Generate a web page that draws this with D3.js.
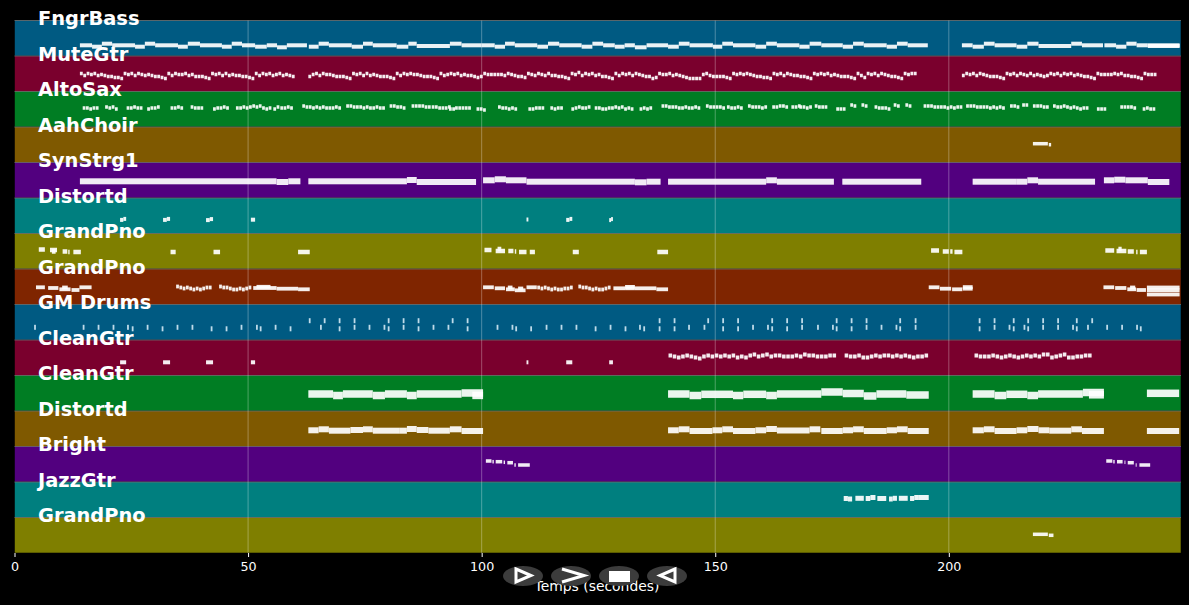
<!DOCTYPE HTML>
<html>
<head>
<meta charset="utf-8">
<script src="https://cdn.jsdelivr.net/npm/d3@7"></script>
<style>
  html, body { margin: 0; padding: 0; background: #000; overflow: hidden; }
  text { font-family: "DejaVu Sans", sans-serif; fill: #fff; }
  .tick line, .domain { stroke: #fff; }
</style>
</head>
<body>
<script>
// *** DATA ***

var trackNames = ['FngrBass','MuteGtr','AltoSax','AahChoir','SynStrg1','Distortd','GrandPno','GrandPno',
  'GM Drums','CleanGtr','CleanGtr','Distortd','Bright','JazzGtr','GrandPno'];
var trackColors = ['#005a82','#7a002d','#007d23','#7f5900','#52007f','#007f7f','#7f7f00','#7f2500',
  '#005a82','#7a002d','#007d23','#7f5900','#52007f','#007f7f','#7f7f00'];
var noteHeights = [4,3.5,3.5,3.5,6,4,4.5,3.8,5,4,7.5,6,3.5,5,3.5];
var xTicks = [0,50,100,150,200];
var xMax = 249.7;

// runs: [start (s), end (s), level inside the track]
var fngrBassRuns = [[14,16.6,10.7],[16.6,18.7,9.3],[18.7,20.9,12.3],[20.9,25.8,10.7],[25.8,27.9,9.3],[27.9,30.1,12.3],
  [30.1,35,10.7],[35,37.1,9.3],[37.1,39.7,12.3],[39.7,44.4,10.7],[44.4,46.5,9.3],[46.5,48.7,12.3],[48.7,51.5,10.7],
  [51.5,54,9.3],[54,56.2,10.7],[56.2,58.3,8.7],[58.3,62.6,10.7],[63,65.1,9.3],[65.1,67.3,12.3],[67.3,72.2,10.7],
  [72.2,74.6,9.3],[74.6,76.7,12.3],[76.7,81.8,10.7],[81.8,84.3,9.3],[84.3,86.1,12.3],[86.1,93.2,10],[93.2,95.7,12.3],
  [95.7,100,10.7],[100,102.8,10.7],[102.8,105,9.3],[105,107.1,12.3],[107.1,111.9,10.7],[111.9,114.2,9.3],[114.2,116.6,12.3],
  [116.6,121.4,10.7],[121.4,123.7,9.3],[123.7,126,12.3],[126,128.5,10.7],[128.5,130.6,9.3],[130.6,132.8,10.7],
  [132.8,135.3,8.7],[135.3,139.9,10.7],[139.9,142.2,9.3],[142.2,144.5,12.3],[144.5,149.5,10.7],[149.5,151.5,9.3],
  [151.5,153.8,12.3],[153.8,158.6,10.7],[158.6,160.9,9.3],[160.9,163.2,12.3],[163.2,168,10.7],[168,170.2,9.3],
  [170.2,172.7,12.3],[172.7,177.3,10.7],[177.3,179.5,9.3],[179.5,181.8,12.3],[181.8,186.7,10.7],[186.7,188.9,9.3],
  [188.9,191.2,12.3],[191.2,195.5,10.7],[202.8,205.1,10.7],[205.1,207.5,9.3],[207.5,209.8,12.3],[209.8,214.5,10.7],
  [214.5,216.8,9.3],[216.8,219.2,12.3],[219.2,226.2,10],[226.2,228.5,12.3],[228.5,233,10.7],[233.3,235.8,10.7],
  [235.8,238,9.3],[238,240.2,12.3],[240.2,242.6,10.7],[242.6,249.4,10.7],[242.6,249.4,10]];

var aahChoirRuns = [[218,221.2,18.8],[221.4,221.9,17.8]];

var synStrgRuns = [[14,56.1,16.7],[56.1,58.6,16],[58.6,61.2,16.7],[62.9,84,16.7],[84,86.1,18],[86.1,98.8,16],
  [100.3,102.8,17.7],[102.8,105.2,18.7],[105.2,109.6,17.7],[109.6,132.8,16.3],[132.8,135.3,15.7],[135.3,138.3,16.3],
  [139.9,160.9,16.3],[160.9,163.2,17.7],[163.2,175.4,16.3],[177.2,194.1,16.3],[205.1,214.4,16.3],[214.4,216.8,16.3],
  [216.8,219.1,17.7],[219.1,231.3,16.3],[233.2,235.4,17.7],[235.4,237.8,18.3],[237.8,242.6,17.7],[242.6,247.2,16]];

var distortdHighRuns = [[22.6,23.3,13.6],[23.3,23.9,14.6],[31.8,32.6,13.6],[32.6,33.3,14.6],[41,41.8,13.4],[41.8,42.5,14.4],
  [50.6,51.5,13.8],[109.6,110,14],[118.1,118.8,13.6],[118.8,119.4,14.6],[127.3,127.7,13.4],[127.7,128.1,14.4]];

var grandPnoARuns = [[5.2,6.5,19.5],[7.6,9.1,19],[8,8.8,17.5],[10.3,11.3,17.5],[11.5,11.8,17],[12.6,14.2,17],[33.4,34.5,17],
  [42.6,44,17],[60.7,63.2,17],[100.6,102.1,19],[103,105,18],[103.4,104.2,20],[105.7,106.8,18],[107.1,107.4,17.5],
  [108,109.6,17],[110.3,111.4,17],[119.5,120.8,17],[137.6,139.9,17],[196.2,197.9,18.5],[198.7,200,17.5],
  [200.3,200.8,17.5],[201.2,202.9,17],[233.5,235.4,18.5],[235.9,238,18],[236.3,237,20],[238.3,239.6,17.5],
  [240.1,240.4,17],[240.9,242.4,17]];

var grandPnoBRuns = [[4.6,6.5,17.2],[7.2,9.4,16.5],[9.6,12,15.2],[10.2,11.4,17],[12.2,13.9,14.5],[13.9,16.5,17.2],
  [51.1,56.1,16.5],[51.8,54.8,17.7],[56.1,60.7,15.8],[60.7,63.2,15.2],[100.3,102.6,17.2],[102.8,105,16.2],[105.2,107.1,15.2],
  [105.6,106.6,17],[107.1,109.4,14.2],[107.8,108.9,16],[109.6,111.8,17.2],[128.2,130.7,16.2],[130.7,132.8,16.2],
  [130.7,132.8,17.6],[132.8,137.4,16.2],[137.4,139.9,15.2],[195.7,198,17.2],[198.1,200.5,15.8],[200.7,202.9,15.2],
  [203,205.1,15.8],[203,205.1,17.4],[233.1,235.4,17.2],[235.6,238,16.5],[238.2,240.1,15.2],[238.8,239.9,17],
  [240.2,242.2,14.5],[242.4,249.4,17],[242.4,249.4,14.2],[242.4,249.4,10]];

var cleanGtrARuns = [[22.6,23.9,13.2],[31.8,33.3,13.2],[41,42.5,13.2],[50.6,51.5,13.2],[109.6,110,13.2],
  [118.1,119.4,13.2],[127.3,128.1,13.2]];

var cleanGtrBRuns = [[62.9,68.2,17],[68.2,70.3,15.5],[70.3,76.7,17],[76.7,79.3,15.5],[79.3,84,17],[84,86.1,15.5],
  [86.1,95.7,17],[95.7,100.3,18],[98,100.3,15.6],[139.9,144.5,17],[144.5,147,15.5],[147,153.8,16.7],[153.8,156,15.5],
  [156,160.9,16.7],[160.9,163.2,15.5],[163.2,172.7,17],[172.7,177.3,19],[177.3,181.8,17.5],[181.8,184.5,15],
  [184.5,190.9,17],[190.9,195.7,16],[205.1,209.8,17],[209.8,212.3,15.5],[212.3,216.8,16.7],[216.8,219.1,15.5],
  [219.1,228.7,17],[228.7,233.2,18.5],[230,233.2,16.2],[242.4,249.3,17.7]];

var distortdLowRuns = [[62.9,65.1,16.2],[65.1,67.3,17.2],[67.3,71.9,15.8],[71.9,74.6,16.5],[74.6,76.7,17.2],[76.7,82.5,15.8],
  [82.5,84,15.8],[84,86.1,17.5],[86.1,88.6,16.5],[88.6,93.2,15.8],[93.2,95.7,17.2],[95.7,100.3,15.5],
  [139.9,142.2,16.2],[142.2,144.5,17.2],[144.5,149.4,15.5],[149.4,151.5,16.2],[151.5,153.8,17.2],[153.8,158.6,15.5],
  [158.6,160.9,16.2],[160.9,163.2,17.5],[163.2,170.2,16],[170.2,172.5,17.2],[172.7,177.3,15.5],[177.3,179.5,16.2],
  [179.5,181.8,17.2],[181.8,186.7,15.5],[186.7,188.9,16.2],[188.9,191.2,17.2],[191.2,195.7,15.5],
  [205.1,207.5,16.2],[207.5,209.8,17.2],[209.8,214.5,15.5],[214.5,216.8,16.2],[216.8,219.2,17.5],[219.2,221.5,16.2],
  [221.5,226.2,15.8],[226.2,228.5,17.2],[228.5,233.2,15.5],[242.4,249.3,15.5]];

var brightRuns = [[100.9,102.1,21],[102.3,102.6,20.3],[103,104.4,20.3],[104.7,105,19.7],[105.5,106.7,19.3],[107,107.3,17],
  [107.8,110.3,17],[233.7,235,21],[235.2,235.5,20.3],[236,237.2,20.3],[237.6,237.8,19.7],[238.3,239.6,19.3],
  [240,240.2,17],[240.8,243.1,17]];

var jazzGtrRuns = [[177.5,178.4,19],[178.4,179.3,18.5],[180,181.8,19.2],[182.2,183.2,19],[183.2,184.3,20],[184.7,186.6,19],
  [187.2,188,18.5],[188,188.9,19.2],[189.3,191.2,19.2],[191.7,192.6,19],[192.6,193.6,20],[193.6,195.7,20]];

var grandPnoCRuns = [[218,221.2,18.7],[221.4,222.4,17.7]];

// phrases: [start (s), levels of successive notes]
var muteGtrStep = 0.72;
var muteGtrPhrases = [
  [14, [18,16,18,17,18,16,17,16,15,15,14,14,13,
        18,17,18,16,18,17,16,17,16,15,15,14,13,
        18,16,18,17,17,18,16,17,15,15,15,14,13,
        18,17,18,16,18,16,17,16,16,15,15,14,13,
        18,16,18,17,18,16,17,18,16,17,16,15]],
  [62.9, [15,17,18,16,18,17,17,16,15,15,15,14,13,
          18,17,18,16,18,16,17,16,15,15,15,14,13,
          18,16,18,17,18,17,17,16,15,15,15,14,13,
          18,16,17,18,17,18,16,17,16,16,15,14,15,
          18,17,17,17,17,17,16,18,17,16,15,15,14,
          18,17,16,18,17,16,18,16,16,15,15,14,13,
          18,17,19,16,18,17,18,16,17,15,15,14,13,
          18,16,18,17,18,16,18,17,16,15,15,13,14,
          18,17,17,18,16,17,16,15,14,13,13,13,13,
          17,18,16,15,15,15,15,14,13,18,17,18,17,
          18,17,16,15,15,14,14,13,18,17,18,16,18,
          17,16,16,15,15,14,13,18,17,18,17,18,16,
          17,16,15,15,15,14,13,18,16,14,18,17,18,
          16,18,17,16,15,15,14,13,18,17,18,18]],
  [202.8, [16,18,17,18,16,18,17,16,15,15,15,14,13,
           18,17,18,16,18,17,16,18,16,17,16,15,16,
           18,17,18,16,18,17,18,16,17,16,15,15,14,
           13,18,17,17,17,17,18,17,18,16,16,15,15,
           14,13,18,17,17,17]]
];

var altoSaxStep = 0.7;
var altoSaxPhrases = [
  [14.6,[19,19,18,19,19]],[19.4,[20,19,20,18]],[24,[19,19,20,19,19]],[28.4,[18,19,19,20]],[33.4,[19,19,20,19]],
  [37.7,[20,19,19,19]],[42.5,[18,19,19,20,19]],[47.4,[19,19,20,19,20,21,20,21,19,18,19]],[55.4,[18,20]],[56.9,[19,19,20,19]],
  [61.6,[21,20,20,19,20,19,20,19,19,19,20,19]],[71,[21,21,20,20,20,19,20,19,19,20,19,19]],[80.3,[21,21,20,20,19]],
  [85,[21,21,21,21,20,20]],[89.3,[20,20,19,19,19,20]],[93,[18,18]],[94.3,[19,19,19,19,19]],[98.9,[18,18,17]],
  [103.5,[20,19,19,18,19,18]],[110,[18,18,19,19,19]],[114.7,[19,18,19,19]],[119.2,[18,19,20,19,19,20]],[124.2,[19,19,18,18]],
  [127,[19,19,20,19,20,18,19,18]],[133.8,[18,19,18,19]],[138.5,[21,21,20,20,20,19,19,20,19,19,20,19]],
  [148,[21,20,20,20,20,19]],[152.5,[20,19,19,20,19]],[157,[21,20,20,20,19,20]],[162.2,[20,20,21,21,20]],
  [166.3,[20,20,21]],[168,[20,20,19,20]],[171.3,[21,20,20,20]],[175.9,[18,18,18]],[178.9,[22,21]],[181.3,[22,21]],
  [184.1,[20,19,19,19,18]],[188.2,[22,21]],[190.7,[22,21]],[194.6,[21,21,21,20,20,20,20,19,20,19,20,20]],
  [203.7,[21,21,21,20,20,20,20,19,20,19,20,19]],[213.1,[21,21,20]],[215.7,[22,22]],[218,[21,21,21,20,20]],
  [222.3,[21,20,20,21,20,19,20,19,18,19,19]],[231.7,[18,18,18]],[236.7,[20,20,20,20,19]],[241.5,[18,19,18,18]]
];

var grandPnoBStep = 0.7;
var grandPnoBPhrases = [
  [34.6,[18,17,16,17,16,15,16,15,16,17,17]],[43.8,[18,17,17,16,15,15,16,15,16,17]],
  [111.9,[17,16,17,16,15,16,15,15,16,16,17]],[120.7,[18,17,17,16,15,16,15,15,16,17]]
];

var cleanGtrStep = 0.9;
var cleanGtrPhrases = [
  [140,[20,19,18,19,20,19,18,17,19,20,19,20,19,20,19,20,18,19,18,20,21,19,20,21,19,20,20,19,19,19,20,19,21,20,20,19,19,19,20,20]],
  [177.7,[20,19,19,20,18,18,19,20,19,20,20,19,20,19,20,19,18,19,19,20]],
  [205.5,[20,19,19,19,20,19,18,19,20,19,18,19,20,19,20,19,21,21,18,19,20,21,18,18,19,19,20,20]]
];

// drum hits: times in seconds for each of the three kit lines
var drumMainHits = [4.2,14.6,17.8,21,24.1,28.3,34.7,37.9,48.4,51.7,55.7,65.4,72.6,75.8,79,
  83.1,89.5,92.7,103.2,106.4,113.7,116.9,120.1,127.4,133.7,144.2,147.5,157.9,161.1,
  168.4,171.8,175,182.2,185.4,188.6,192.7,209.6,212.8,216,220,223.2,226.4,229.6,233.7,236.9,240.1];
var drumLowHits = [25.1,31.5,42,45.2,52.5,58.9,69.4,79.9,86.3,96.8,107.2,110.4,124.2,130.6,134.6,137.9,141.1,
  151.5,154.7,162,165.2,175.8,179,189.4,206.4,213.7,216.8,227.2,240.9];
var drumHighHits = [63,66.2,69.4,72.6,79.9,83.1,86.3,93.6,96.8,137.9,141.1,148.3,151.5,154.7,162,165.2,
  168.4,175.8,179,182.2,189.4,192.7,206.4,209.6,213.7,216.8,220,223.2,227.2,230.5];

// *** SCALES ***

var x = d3.scaleLinear().domain([0, xMax]).range([14.5, 1181]);
var band = d3.scaleBand().domain(d3.range(trackNames.length)).range([20.5, 553]);
var bandH = band.bandwidth();

// FUNCTION: y position of a level inside a track
function levelY(track, level){
  return band(track) + bandH - level;
}

// FUNCTION: turn phrases into plain [start, end, level] notes
function phraseNotes(phrases, step){
  var out = [];
  phrases.forEach(function(p){
    p[1].forEach(function(lv, ii){
      out.push([p[0] + ii*step, p[0] + ii*step + step*0.85, lv]);
    });
  });
  return out;
}

// FUNCTION: turn hit times into short notes
function hitNotes(hits, level){
  return hits.map(function(t){ return [t, t + 0.38, level]; });
}

var trackNotes = [
  fngrBassRuns,
  phraseNotes(muteGtrPhrases, muteGtrStep),
  phraseNotes(altoSaxPhrases, altoSaxStep),
  aahChoirRuns,
  synStrgRuns,
  distortdHighRuns,
  grandPnoARuns,
  grandPnoBRuns.concat(phraseNotes(grandPnoBPhrases, grandPnoBStep)),
  hitNotes(drumMainHits, 12.7).concat(hitNotes(drumLowHits, 11.2), hitNotes(drumHighHits, 19.3)),
  cleanGtrARuns.concat(phraseNotes(cleanGtrPhrases, cleanGtrStep)),
  cleanGtrBRuns,
  distortdLowRuns,
  brightRuns,
  jazzGtrRuns,
  grandPnoCRuns
];

// *** DRAW ***

var svg = d3.select('body').append('svg')
  .attr('width', 1189)
  .attr('height', 605);

svg.append('defs').append('filter')
  .attr('id', 'soft')
  .append('feGaussianBlur')
  .attr('stdDeviation', 0.35);

svg.append('rect').attr('width', 1189).attr('height', 605).attr('fill', '#000');

// Track Bands
svg.append('g').selectAll('rect').data(trackNames).enter().append('rect')
  .attr('x', x(0))
  .attr('y', function(d, ii){ return band(ii); })
  .attr('width', x(xMax) - x(0))
  .attr('height', bandH)
  .attr('fill', function(d, ii){ return trackColors[ii]; })
  .attr('stroke', '#000')
  .attr('stroke-opacity', 0.55)
  .attr('stroke-width', 1);

svg.append('g').selectAll('line').data(trackNames).enter().append('line')
  .attr('x1', x(0))
  .attr('x2', x(xMax))
  .attr('y1', function(d, ii){ return band(ii); })
  .attr('y2', function(d, ii){ return band(ii); })
  .attr('stroke', '#fff')
  .attr('stroke-opacity', 0.35);

// Vertical Grid
svg.append('g').selectAll('line').data(xTicks.slice(1)).enter().append('line')
  .attr('x1', function(d){ return x(d); })
  .attr('x2', function(d){ return x(d); })
  .attr('y1', band(0))
  .attr('y2', 553)
  .attr('stroke', '#fff')
  .attr('stroke-opacity', 0.3);

// Notes
trackNotes.forEach(function(notes, tt){
  svg.append('g').attr('filter', 'url(#soft)').selectAll('rect').data(notes).enter().append('rect')
    .attr('x', function(d){ return x(d[0]); })
    .attr('width', function(d){ return x(d[1]) - x(d[0]); })
    .attr('y', function(d){ return levelY(tt, d[2]) - noteHeights[tt]/2; })
    .attr('height', noteHeights[tt])
    .attr('fill', tt === 8 ? '#cfe6f2' : '#fff')
    .attr('fill-opacity', 0.92);
});

// Track Names
svg.append('g').selectAll('text').data(trackNames).enter().append('text')
  .attr('x', 38)
  .attr('y', function(d, ii){ return band(ii) + 4.7; })
  .attr('font-size', 19.4)
  .attr('font-weight', 'bold')
  .text(function(d){ return d; });

// X Axis
var xAxis = svg.append('g')
  .attr('transform', 'translate(0,553)')
  .call(d3.axisBottom(x).tickValues(xTicks).tickFormat(d3.format('d')).tickSize(4).tickPadding(5));
xAxis.select('.domain').remove();
xAxis.selectAll('text').attr('font-size', 12.7).style('font-family', '"DejaVu Sans", sans-serif');

svg.append('text')
  .attr('x', 597)
  .attr('y', 591)
  .attr('text-anchor', 'middle')
  .attr('font-size', 13.9)
  .text('Temps (secondes)');

// Player Buttons
var buttons = [523, 571, 619, 667];
svg.append('g').selectAll('ellipse').data(buttons).enter().append('ellipse')
  .attr('cx', function(d){ return d; })
  .attr('cy', 576)
  .attr('rx', 20)
  .attr('ry', 10)
  .attr('fill', '#3c3c3c');

svg.append('path').attr('d', 'M516,569 L531,575.5 L516,582 Z')
  .attr('fill', 'none').attr('stroke', '#fff').attr('stroke-width', 3);
svg.append('path').attr('d', 'M562,569 L584,575.5 L562,582')
  .attr('fill', 'none').attr('stroke', '#fff').attr('stroke-width', 3);
svg.append('rect').attr('x', 609).attr('y', 571).attr('width', 21).attr('height', 11).attr('fill', '#fff');
svg.append('path').attr('d', 'M675,569 L660,575.5 L675,582 Z')
  .attr('fill', 'none').attr('stroke', '#fff').attr('stroke-width', 3);
</script>
</body>
</html>
